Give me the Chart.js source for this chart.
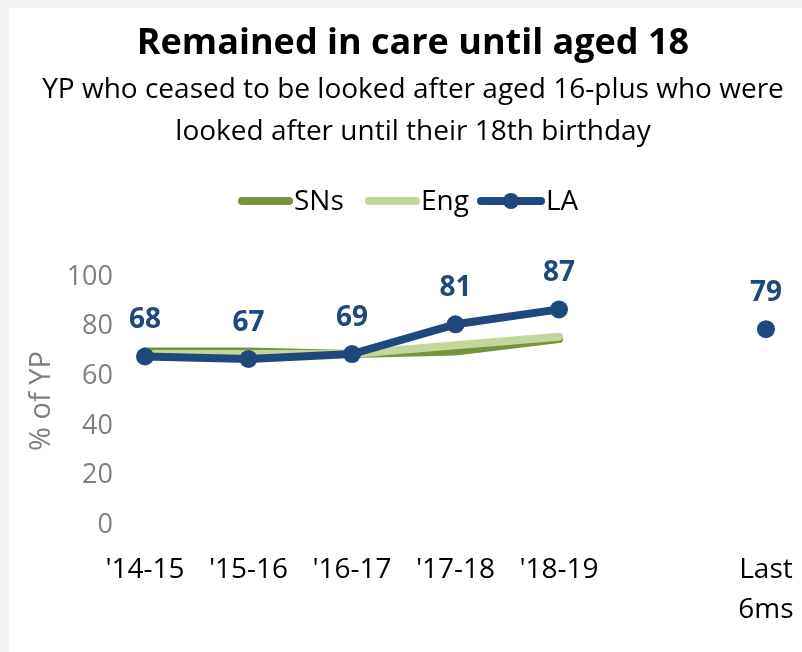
<!DOCTYPE html>
<html>
<head>
<meta charset="utf-8">
<script src="https://cdn.jsdelivr.net/npm/chart.js@4.4.1/dist/chart.umd.min.js"></script>
<style>
html,body{margin:0;padding:0;background:#f2f2f2;width:802px;height:652px;overflow:hidden;}
#box{position:absolute;left:9px;top:8px;width:793px;height:644px;background:#fff;}
canvas{display:block;}
</style>
</head>
<body>
<div id="box"><canvas id="c" width="793" height="644"></canvas></div>
<script>
const categories = ["'14-15", "'15-16", "'16-17", "'17-18", "'18-19", "", ["Last", "6ms"]];
const snsValues = [70, 70, 69, 70, 75, null, null];
const engValues = [69, 69, 69, 72.5, 76, null, null];
const laValues  = [68, 67, 69, 81, 87, null, 79];
const yTicks = [0, 20, 40, 60, 80, 100];

const FONT = "'Open Sans', 'Noto Sans', sans-serif";
const LA_COL = '#1f497d', SNS_COL = '#77933c', ENG_COL = '#c3d69b';

const labelPlugin = {
  id: 'laLabels',
  afterDatasetsDraw(chart) {
    const ctx = chart.ctx;
    const meta = chart.getDatasetMeta(2);
    ctx.save();
    ctx.font = "bold 28px " + FONT;
    ctx.fillStyle = LA_COL;
    ctx.textAlign = 'center';
    ctx.textBaseline = 'middle';
    meta.data.forEach((pt, i) => {
      const v = laValues[i];
      if (v === null || v === undefined) return;
      ctx.fillText(String(v), pt.x, pt.y - 36);
    });
    ctx.restore();
  }
};

const legendPlugin = {
  id: 'customLegend',
  afterDraw(chart) {
    const ctx = chart.ctx;
    const y = 193;
    const items = [
      {label: 'SNs', col: SNS_COL, x0: 229, x1: 284, dot: false},
      {label: 'Eng', col: ENG_COL, x0: 356, x1: 411, dot: false},
      {label: 'LA',  col: LA_COL,  x0: 468, x1: 536, dot: true}
    ];
    ctx.save();
    ctx.font = "28px " + FONT;
    ctx.textBaseline = 'middle';
    ctx.textAlign = 'left';
    items.forEach(it => {
      ctx.strokeStyle = it.col;
      ctx.lineWidth = 8;
      ctx.lineCap = 'round';
      ctx.beginPath();
      ctx.moveTo(it.x0 + 4, y);
      ctx.lineTo(it.x1 - 4, y);
      ctx.stroke();
      if (it.dot) {
        ctx.fillStyle = it.col;
        ctx.beginPath();
        ctx.arc((it.x0 + it.x1) / 2, y, 8, 0, Math.PI * 2);
        ctx.fill();
      }
      ctx.fillStyle = '#000';
      ctx.fillText(it.label, it.x1 + 1, y + 1);
    });
    ctx.restore();
  }
};

new Chart(document.getElementById('c'), {
  type: 'line',
  data: {
    labels: categories,
    datasets: [
      {label: 'SNs', order: 2, data: snsValues, borderColor: SNS_COL, backgroundColor: SNS_COL, borderWidth: 8, pointRadius: 0, borderJoinStyle: 'round', borderCapStyle: 'round', tension: 0},
      {label: 'Eng', order: 1, data: engValues, borderColor: ENG_COL, backgroundColor: ENG_COL, borderWidth: 8, pointRadius: 0, borderJoinStyle: 'round', borderCapStyle: 'round', tension: 0},
      {label: 'LA', order: 0, data: laValues, borderColor: LA_COL, backgroundColor: LA_COL, borderWidth: 8, pointRadius: 9, pointBorderWidth: 0, pointBackgroundColor: LA_COL, borderJoinStyle: 'round', borderCapStyle: 'round', tension: 0, spanGaps: false}
    ]
  },
  options: {
    responsive: false,
    animation: false,
    layout: {padding: {left: 15, right: 0, top: 0, bottom: 22}},
    plugins: {
      legend: {display: false},
      tooltip: {enabled: false},
      title: {
        display: true,
        text: 'Remained in care until aged 18',
        color: '#000',
        font: {family: FONT, size: 36, weight: 'bold', lineHeight: 1.2},
        padding: {top: 14, bottom: 4}
      },
      subtitle: {
        display: true,
        text: ['YP who ceased to be looked after aged 16-plus who were', 'looked after until their 18th birthday'],
        color: '#000',
        font: {family: FONT, size: 28, lineHeight: 1.5},
        padding: {top: 0, bottom: 124}
      }
    },
    scales: {
      x: {
        offset: false,
        grid: {display: false, drawTicks: false},
        border: {display: false},
        afterFit(axis) { axis.paddingRight = 36; axis.height = 105; },
        ticks: {color: '#000', font: {family: FONT, size: 28, lineHeight: 1.43}, padding: 25, maxRotation: 0, autoSkip: false}
      },
      y: {
        min: 0, max: 100,
        afterBuildTicks(axis) { axis.ticks = yTicks.map(v => ({value: v})); },
        afterFit(axis) { axis.width = 121; },
        grid: {display: false, drawTicks: false},
        border: {display: false},
        ticks: {color: '#7f7f7f', font: {family: FONT, size: 27}, padding: 32},
        title: {display: true, text: '% of YP', color: '#7f7f7f', font: {family: FONT, size: 29, lineHeight: 1.2}, padding: {top: 0, bottom: 8}}
      }
    }
  },
  plugins: [labelPlugin, legendPlugin]
});
</script>
</body>
</html>
